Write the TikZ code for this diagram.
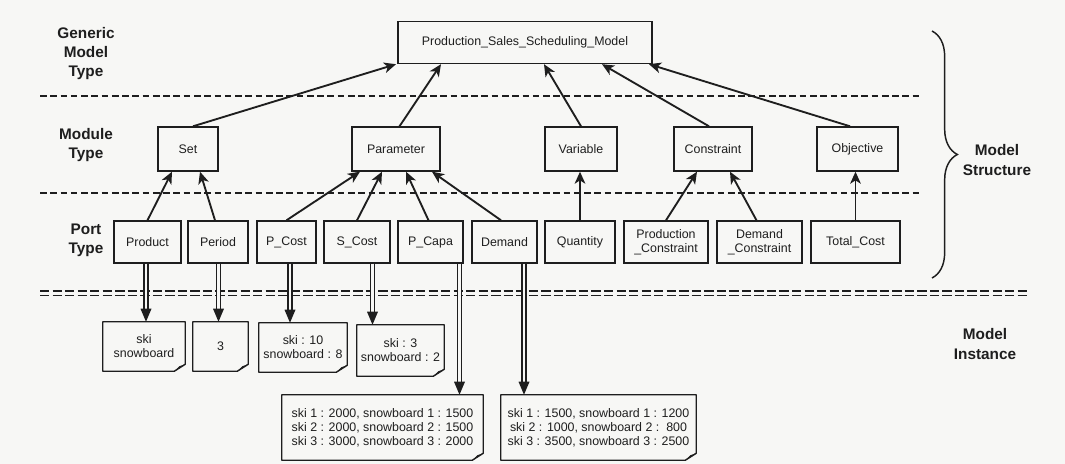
\documentclass[tikz,border=0pt]{standalone}
\usepackage{fontspec}
\setmainfont{Liberation Sans}
\usetikzlibrary{arrows.meta,calc,decorations.pathreplacing}
\definecolor{bg}{RGB}{247,247,245}
\definecolor{ink}{RGB}{30,30,30}
\tikzset{
  sz/.style 2 args={minimum width=#1*0.75pt, minimum height=#2*0.75pt},
  box/.style={draw=ink, line width=1.05pt, inner sep=0pt, align=center, text=ink,
              font=\fontsize{9.3}{10.3}\selectfont},
  notetext/.style={inner sep=0pt, align=center, text=ink,
              font=\fontsize{9.3}{10.5}\selectfont},
  lbl/.style={align=center, text=ink, font=\fontsize{11.5}{14.5}\selectfont\bfseries},
  up/.style={draw=ink, line width=1.4pt, -{Stealth[length=9pt,width=8pt,inset=2.5pt]}},
  sepline/.style={draw=ink, line width=1pt, dash pattern=on 5pt off 2.7pt},
  dsepline/.style={draw=ink, line width=1pt, dash pattern=on 7pt off 2.4pt},
  dblshaft/.style={draw=ink, double=bg, double distance=2pt, line width=0.95pt, shorten >=9pt},
}
\newcommand\notebox[1]{%
  \draw[ink, line width=1.05pt, line join=round] (#1.north west) -- (#1.north east)
     -- ($(#1.south east)+(0,-7)$) -- ($(#1.south east)+(-11,0)$) -- (#1.south west) -- cycle;
  \fill[ink] ($(#1.south east)+(0,-7)$) -- ($(#1.south east)+(-11,0)$) -- ($(#1.south east)+(-6,-5)$) -- cycle;}
\newcommand\dblarrow[2]{%
  \draw[dblshaft] (#1) -- (#2);
  \fill[ink] (#2) -- ++(-5.5,-13) -- ++(11,0) -- cycle;}
\begin{document}
\begin{tikzpicture}[x=0.75pt, y=-0.75pt]
\path[use as bounding box, fill=bg] (0,0) rectangle (1065,464);

% separators
\draw[sepline] (40,96) -- (921,96);
\draw[sepline] (40,193) -- (921,193);
\draw[dsepline] (40,291) -- (1029,291);
\draw[dsepline] (40,295.5) -- (1029,295.5);

% labels
\node[lbl] (gmt) at (86,53.5) {Generic\\Model\\Type};
\node[lbl] (mt) at (86,145) {Module\\Type};
\node[lbl] (pt) at (86,240) {Port\\Type};
\node[lbl] (ms) at (997,160) {Model\\Structure};
\node[lbl] (mi) at (985,344) {Model\\Instance};

% brace
\draw[ink, line width=1.1pt, decorate, decoration={brace, amplitude=19pt}] (932,31) -- (932,278);

% generic model
\node[box, sz={254}{42}] (top) at (525,42.5) {Production\_Sales\_Scheduling\_Model};

% module types
\node[box, sz={60}{44}] (set) at (188,149) {Set};
\node[box, sz={88}{44}] (par) at (396,149) {Parameter};
\node[box, sz={72}{44}] (var) at (581,149) {Variable};
\node[box, sz={78}{44}] (con) at (713,149) {Constraint};
\node[box, sz={81}{44}] (obj) at (857.5,149) {Objective};

% port types
\node[box, sz={67}{42}] (prod) at (147.5,242) {Product};
\node[box, sz={60}{42}] (peri) at (218,242) {Period};
\node[box, sz={59}{42}] (pcost) at (286.5,242) {P\_Cost};
\node[box, sz={66}{42}] (scost) at (357,242) {S\_Cost};
\node[box, sz={65}{42}] (pcapa) at (430.5,242) {P\_Capa};
\node[box, sz={65}{42}] (dem) at (504.5,242) {Demand};
\node[box, sz={70}{42}] (qty) at (580,242) {Quantity};
\node[box, sz={84}{42}] (pcon) at (666,242) {Production\\\_Constraint};
\node[box, sz={85}{42}] (dcon) at (759.5,242) {Demand\\\_Constraint};
\node[box, sz={89}{42}] (tc) at (855.5,242) {Total\_Cost};

% instances
\node[notetext, sz={82}{49}] (i1) at (144,346.5) {ski\\snowboard};
\node[notetext, sz={55}{49}] (i2) at (220.5,346.5) {3};
\node[notetext, sz={88}{49}] (i3) at (303,347.5) {ski : 10\\snowboard : 8};
\node[notetext, sz={87}{51}] (i4) at (400.5,350.5) {ski : 3\\snowboard : 2};
\node[notetext, sz={201}{65}] (i5) at (382.5,427.5) {ski 1 : 2000, snowboard 1 : 1500\\ski 2 : 2000, snowboard 2 : 1500\\ski 3 : 3000, snowboard 3 : 2000};
\node[notetext, sz={195}{65}] (i6) at (598.5,427.5) {ski 1 : 1500, snowboard 1 : 1200\\ski 2 : 1000, snowboard 2 :\ \ 800\\ski 3 : 3500, snowboard 3 : 2500};
\notebox{i1}\notebox{i2}\notebox{i3}\notebox{i4}\notebox{i5}\notebox{i6}

% module -> generic
\draw[up] ($(set.north)+(5,0)$) -- ($(top.south)+(-129,0)$);
\draw[up] ($(par.north)+(3.5,0)$) -- ($(top.south)+(-84,0)$);
\draw[up] (var.north) -- ($(top.south)+(19,0)$);
\draw[up] ($(con.north)+(-4,0)$) -- ($(top.south)+(77,0)$);
\draw[up] ($(obj.north)+(-7.5,0)$) -- ($(top.south)+(124,0)$);

% port -> module
\draw[up] (prod.north) -- ($(set.south)+(-16,0)$);
\draw[up] ($(peri.north)+(-3,0)$) -- ($(set.south)+(12,0)$);
\draw[up] (pcost.north) -- ($(par.south)+(-36,0)$);
\draw[up] (scost.north) -- ($(par.south)+(-14,0)$);
\draw[up] ($(pcapa.north)+(-2,0)$) -- ($(par.south)+(10,0)$);
\draw[up] ($(dem.north)+(-3.5,0)$) -- ($(par.south)+(36,0)$);
\draw[up] (qty.north) -- (qty.north |- var.south);
\draw[up] (pcon.north) -- ($(con.south)+(-16,0)$);
\draw[up] ($(dcon.north)+(-3,0)$) -- ($(con.south)+(17,0)$);
\draw[up] (tc.north) -- (tc.north |- obj.south);

% port -> instance
\coordinate (d1) at ($(prod.south)+(-1.5,0)$);
\coordinate (d2) at ($(peri.south)+(0.5,0)$);
\coordinate (d3) at ($(pcost.south)+(3.5,0)$);
\coordinate (d4) at ($(scost.south)+(15.5,0)$);
\coordinate (d5) at ($(pcapa.south)+(29,0)$);
\coordinate (d6) at ($(dem.south)+(19.5,0)$);
\dblarrow{d1}{d1 |- i1.north}
\dblarrow{d2}{d2 |- i2.north}
\dblarrow{d3}{d3 |- i3.north}
\dblarrow{d4}{d4 |- i4.north}
\dblarrow{d5}{d5 |- i5.north}
\dblarrow{d6}{d6 |- i6.north}
\end{tikzpicture}
\end{document}
